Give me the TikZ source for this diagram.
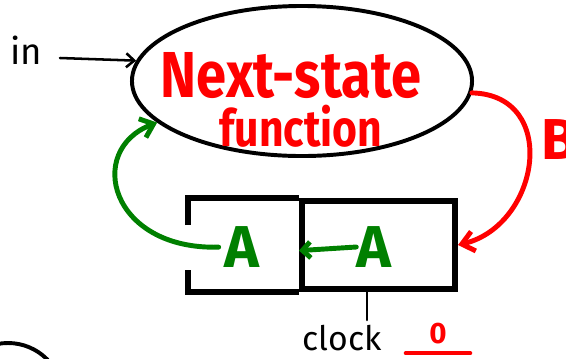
\documentclass[tikz,border=0pt]{standalone}
\usepackage{fontspec}
\setmainfont{Fira Sans}
\usetikzlibrary{arrows.meta,shapes.geometric}
\definecolor{penred}{RGB}{255,0,0}
\definecolor{pengreen}{RGB}{0,128,0}

\begin{document}
\begin{tikzpicture}[
x=0.025cm, y=-0.025cm,
>={Straight Barb[length=3mm,width=5mm]},
every node/.style={inner sep=0pt},
wire/.style={line width=1.8pt,line cap=round},
redpen/.style={draw=penred,line width=3.5pt,line cap=round},
greenpen/.style={draw=pengreen,line width=3.5pt,line cap=round},
cell/.style={draw,line width=4.3pt,minimum width=3.825cm,minimum height=2.2cm},
letterA/.style={text=pengreen,font=\fontsize{42}{42}\selectfont\bfseries},
title/.style={text=penred,anchor=base,font=\bfseries}
]

\useasboundingbox (0,0) rectangle (566,358);

% Next-state logic
\node[ellipse,draw,line width=2.8pt,minimum width=8.5cm,minimum height=3.75cm] (nsf) at (302,81) {};
\node[title] (nsfTop) at (291,97) {\scalebox{0.92}[1.1]{\fontsize{42}{42}\selectfont Next-state}};
\node[title] (nsfBot) at (301,146) {\scalebox{0.92}[1.1]{\fontsize{33}{33}\selectfont function}};

% Input
\node[font=\fontsize{26}{26}\selectfont] (in) at (26,50) {in};
\draw[wire,->,>={Straight Barb[length=2mm,width=3.5mm]}] (60,58) -- (nsf.173);

% State register
\node[cell] (regR) at (378.5,245) {};
\draw[line width=4.3pt] (188,225) |- (regR.north west);
\draw[line width=4.3pt] (188,270) |- (regR.south west);
\node[letterA] (aL) at (242,247) {A};
\node[letterA] (aR) at (374,247) {A};

% Transfers
\draw[greenpen,->,>={Straight Barb[length=2mm,width=4mm]}] (aR.west) -- ([yshift=-4pt]regR.west);
\draw[greenpen,->,shorten <=4pt] (aL.west) .. controls (110,250) and (85,150) .. (nsf.196);
\draw[redpen,->] (nsf.-4) .. controls (560,95) and (540,225) .. (regR.east);
\node[text=penred,font=\fontsize{41}{41}\selectfont\bfseries] (b) at (559,140) {B};

% Clock
\node[font=\fontsize{24}{24}\selectfont] (clk) at (342,338) {clock};
\coordinate (tap) at (367,289);
\draw[wire] (tap) -- (367,320);
\node[text=penred,font=\fontsize{21}{21}\selectfont\bfseries,minimum width=1.6cm] (cnt) at (438,334) {0};
\draw[redpen,line width=2.8pt] ([yshift=-6pt]cnt.south west) -- ([yshift=-6pt]cnt.south east);

% Next drawing
\draw[line width=2.8pt] (8,398) circle[radius=55];

\end{tikzpicture}
\end{document}
